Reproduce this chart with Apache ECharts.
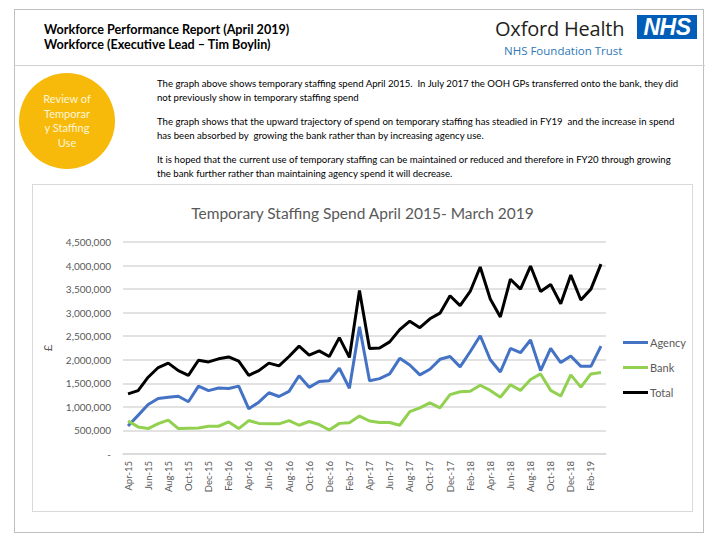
<!DOCTYPE html>
<html>
<head>
<meta charset="utf-8">
<script src="https://cdn.jsdelivr.net/npm/echarts@6/dist/echarts.min.js"></script>
<style>
  html, body { margin: 0; padding: 0; background: #ffffff; }
  body { width: 720px; height: 540px; position: relative; overflow: hidden; font-family: Lato, "Open Sans", sans-serif; }
  .frame { position: absolute; left: 14px; top: 9px; width: 690px; height: 524px; border: 1px solid #bfbfbf; box-sizing: border-box; }
  .divider { position: absolute; left: 14px; top: 65px; width: 691px; height: 1px; background: #d0d0d0; }
  .title { position: absolute; left: 44px; top: 22px; font-family: Lato, sans-serif; font-weight: bold; font-size: 12.6px; line-height: 15px; color: #000; }
  .oh { position: absolute; left: 495px; top: 17px; font-family: "Open Sans", sans-serif; font-size: 20px; line-height: 24px; color: #231f20; letter-spacing: -0.2px; }
  .ohsub { position: absolute; left: 504px; top: 43px; font-family: "Open Sans", sans-serif; font-size: 11.5px; line-height: 15px; color: #2e79b5; }
  .nhs { position: absolute; left: 637px; top: 15px; width: 60px; height: 24px; background: #005EB8; color: #fff; font-family: "Liberation Sans", Arial, sans-serif; font-weight: bold; font-style: italic; font-size: 23px; line-height: 24px; text-align: center; letter-spacing: -0.5px; }
  .circle { position: absolute; left: 19px; top: 73px; width: 96px; height: 96px; border-radius: 50%; background: #F7BA0B; }
  .circletext { position: absolute; left: 19px; top: 92px; width: 96px; text-align: center; font-family: Lato, sans-serif; font-size: 11px; line-height: 14.5px; color: #fff6d8; }
  .para { position: absolute; left: 157px; width: 545px; font-family: Lato, sans-serif; font-size: 9.6px; line-height: 14px; color: #000; white-space: nowrap; }
  #chart { position: absolute; left: 32px; top: 184px; width: 661px; height: 328px; border: 1px solid #d9d9d9; box-sizing: border-box; }
</style>
</head>
<body>
<div class="frame"></div>
<div class="divider"></div>
<div class="title">Workforce Performance Report (April 2019)<br>Workforce (Executive Lead – Tim Boylin)</div>
<div class="oh">Oxford Health</div>
<div class="ohsub">NHS Foundation Trust</div>
<div class="nhs">NHS</div>
<div class="circle"></div>
<div class="circletext">Review of<br>Temporar<br>y Staffing<br>Use</div>
<div class="para" style="top:77px;">The graph above shows temporary staffing spend April 2015.&nbsp; In July 2017 the OOH GPs transferred onto the bank, they did<br>not previously show in temporary staffing spend</div>
<div class="para" style="top:115px;">The graph shows that the upward trajectory of spend on temporary staffing has steadied in FY19&nbsp; and the increase in spend<br>has been absorbed by&nbsp; growing the bank rather than by increasing agency use.</div>
<div class="para" style="top:153px;">It is hoped that the current use of temporary staffing can be maintained or reduced and therefore in FY20 through growing<br>the bank further rather than maintaining agency spend it will decrease.</div>
<div id="chart"></div>
<script>
// Month categories April 2015 – March 2019
var months = [
  'Apr-15','May-15','Jun-15','Jul-15','Aug-15','Sep-15','Oct-15','Nov-15','Dec-15','Jan-16','Feb-16','Mar-16',
  'Apr-16','May-16','Jun-16','Jul-16','Aug-16','Sep-16','Oct-16','Nov-16','Dec-16','Jan-17','Feb-17','Mar-17',
  'Apr-17','May-17','Jun-17','Jul-17','Aug-17','Sep-17','Oct-17','Nov-17','Dec-17','Jan-18','Feb-18','Mar-18',
  'Apr-18','May-18','Jun-18','Jul-18','Aug-18','Sep-18','Oct-18','Nov-18','Dec-18','Jan-19','Feb-19','Mar-19'
];

var agency = [
  595000, 820000, 1050000, 1180000, 1205000, 1226000, 1110000, 1440000, 1346000, 1400000, 1390000, 1440000,
  960000, 1100000, 1300000, 1220000, 1330000, 1660000, 1415000, 1540000, 1555000, 1820000, 1395000, 2700000,
  1555000, 1600000, 1700000, 2030000, 1890000, 1680000, 1800000, 2010000, 2070000, 1850000, 2170000, 2510000,
  2000000, 1740000, 2240000, 2150000, 2420000, 1770000, 2240000, 1940000, 2080000, 1860000, 1860000, 2290000
];

var bank = [
  700000, 575000, 540000, 645000, 720000, 540000, 547000, 553000, 589000, 589000, 680000, 540000,
  710000, 650000, 640000, 640000, 710000, 610000, 690000, 625000, 510000, 650000, 665000, 805000,
  700000, 670000, 670000, 610000, 900000, 980000, 1087000, 980000, 1260000, 1320000, 1330000, 1460000,
  1350000, 1205000, 1470000, 1350000, 1580000, 1700000, 1350000, 1230000, 1680000, 1420000, 1700000, 1730000
];

var total = [
  1276000, 1346000, 1630000, 1836000, 1930000, 1770000, 1670000, 1990000, 1955000, 2020000, 2060000, 1970000,
  1670000, 1770000, 1930000, 1870000, 2070000, 2290000, 2100000, 2190000, 2070000, 2470000, 2050000, 3470000,
  2240000, 2250000, 2380000, 2640000, 2820000, 2680000, 2870000, 2990000, 3360000, 3150000, 3450000, 3970000,
  3290000, 2910000, 3710000, 3500000, 3990000, 3450000, 3600000, 3190000, 3800000, 3270000, 3500000, 4030000
];

var seriesNames = ['Agency', 'Bank', 'Total'];
var seriesColors = ['#4472C4', '#92D050', '#000000'];
var chartTitle = 'Temporary Staffing Spend April 2015- March 2019';

var font = 'Lato, sans-serif';
var chart = echarts.init(document.getElementById('chart'), null, { renderer: 'svg' });
var dataSets = [agency, bank, total];
chart.setOption({
  animation: false,
  title: {
    text: chartTitle,
    left: 'center',
    top: 15,
    textStyle: { fontFamily: font, fontSize: 15.5, fontWeight: 'normal', color: '#595959' }
  },
  legend: {
    orient: 'vertical',
    left: 590,
    top: 152,
    width: 70,
    padding: 0,
    itemWidth: 25,
    itemHeight: 3,
    itemGap: 14,
    icon: 'rect',
    textStyle: { fontFamily: font, fontSize: 11, color: '#595959', padding: [0, 0, 0, -3] },
    data: seriesNames
  },
  grid: { left: 90, right: 86, top: 57, bottom: 57, containLabel: false },
  xAxis: {
    type: 'category',
    data: months,
    boundaryGap: true,
    axisLine: { lineStyle: { color: '#d9d9d9', width: 1.5 } },
    axisTick: { show: false },
    axisLabel: { rotate: 90, interval: 1, margin: 7, fontFamily: font, fontSize: 9.5, color: '#595959' }
  },
  yAxis: {
    type: 'value',
    min: 0,
    max: 4500000,
    interval: 500000,
    name: '£',
    nameLocation: 'middle',
    nameGap: 70,
    nameRotate: 90,
    nameTextStyle: { fontFamily: font, fontSize: 12, color: '#595959' },
    axisLine: { show: false },
    axisTick: { show: false },
    splitLine: { lineStyle: { color: '#d9d9d9', width: 1.5 } },
    axisLabel: {
      margin: 12,
      fontFamily: font,
      fontSize: 10,
      color: '#595959',
      formatter: function (v) { return v === 0 ? '-' : v.toString().replace(/\B(?=(\d{3})+(?!\d))/g, ','); }
    }
  },
  series: seriesNames.map(function (n, i) {
    return {
      name: n,
      type: 'line',
      data: dataSets[i],
      symbol: 'none',
      color: seriesColors[i],
      lineStyle: { width: 3, color: seriesColors[i] }
    };
  })
});
</script>
</body>
</html>
